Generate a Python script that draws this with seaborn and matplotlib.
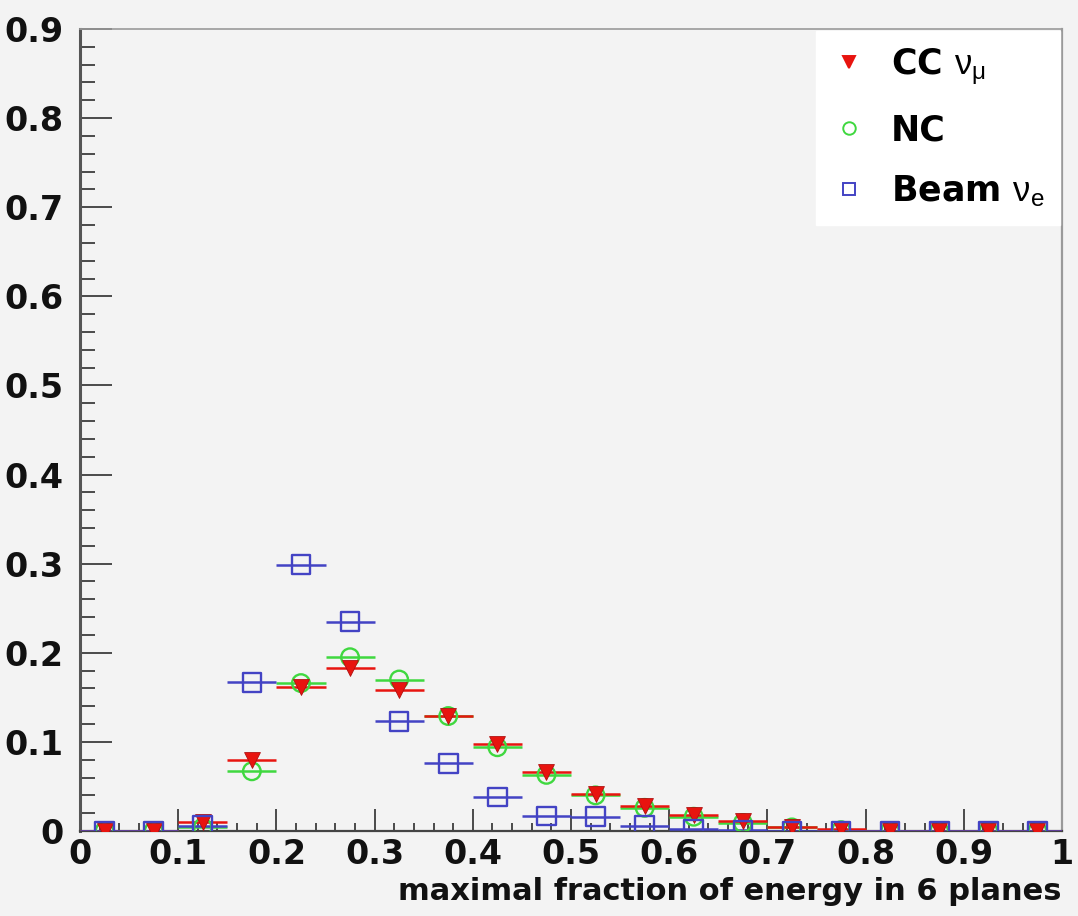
import numpy as np
import pandas as pd
import matplotlib
matplotlib.use("Agg")
import matplotlib.pyplot as plt
from matplotlib.lines import Line2D
from matplotlib.ticker import MultipleLocator, FixedLocator, FixedFormatter
import seaborn as sns

# Bin centres of the 20-bin histogram on [0, 1]
bin_centers = [0.025, 0.075, 0.125, 0.175, 0.225, 0.275, 0.325, 0.375, 0.425, 0.475,
               0.525, 0.575, 0.625, 0.675, 0.725, 0.775, 0.825, 0.875, 0.925, 0.975]
bin_half_width = 0.025

cc_numu = [0.0, 0.0, 0.010, 0.080, 0.162, 0.183, 0.158, 0.129, 0.098, 0.066,
           0.042, 0.028, 0.018, 0.011, 0.005, 0.002, 0.0, 0.0, 0.0, 0.0]
nc = [0.0, 0.0, 0.004, 0.067, 0.166, 0.195, 0.170, 0.129, 0.094, 0.063,
      0.040, 0.026, 0.016, 0.009, 0.004, 0.001, 0.0, 0.0, 0.0, 0.0]
beam_nue = [0.0, 0.0, 0.006, 0.167, 0.299, 0.235, 0.123, 0.076, 0.038, 0.017,
            0.016, 0.006, 0.002, 0.001, 0.0, 0.0, 0.0, 0.0, 0.0, 0.0]

series_names = ["CC", "NC", "Beam"]
legend_labels = [r"CC $\mathrm{ν_{μ}}$", "NC", r"Beam $\mathrm{ν_{e}}$"]
x_tick_labels = ["0", "0.1", "0.2", "0.3", "0.4", "0.5", "0.6", "0.7", "0.8", "0.9", "1"]
y_tick_labels = ["0", "0.1", "0.2", "0.3", "0.4", "0.5", "0.6", "0.7", "0.8", "0.9"]
x_title = "maximal fraction of energy in 6 planes"

sns.set_theme(style="white")
plt.rcParams["font.family"] = ["DejaVu Sans"]
plt.rcParams["mathtext.fontset"] = "custom"
plt.rcParams["mathtext.rm"] = "Liberation Sans"
plt.rcParams["mathtext.it"] = "Liberation Sans:italic"
plt.rcParams["text.color"] = "black"

df = pd.DataFrame({
    "x": bin_centers * 3,
    "y": cc_numu + nc + beam_nue,
    "series": [series_names[0]] * 20 + [series_names[1]] * 20 + [series_names[2]] * 20,
})

bg = "#f3f3f3"
fig = plt.figure(figsize=(10.78, 9.16), dpi=100, facecolor=bg)
ax = fig.add_axes([80 / 1078, (916 - 831) / 916, 982 / 1078, 802 / 916])
ax.set_facecolor(bg)

styles = {
    "NC": dict(color="#3fd83f", marker="o", filled=False, s=160),
    "CC": dict(color="#e8140f", marker="v", filled=True, s=130),
    "Beam": dict(color="#4343c4", marker="s", filled=False, s=180),
}

# Draw order: NC, CC, then beam nu_e on top
for name in ["NC", "CC", "Beam"]:
    st = styles[name]
    sub = df[df["series"] == name]
    ax.errorbar(sub["x"], sub["y"], xerr=bin_half_width, fmt="none",
                ecolor=st["color"], elinewidth=1.8, capsize=0, zorder=3)
    if st["filled"]:
        sns.scatterplot(data=sub, x="x", y="y", ax=ax, marker=st["marker"], s=st["s"],
                        color=st["color"], edgecolor="#b01010", linewidth=0.6,
                        zorder=4, legend=False)
    else:
        sns.scatterplot(data=sub, x="x", y="y", ax=ax, marker=st["marker"], s=st["s"],
                        facecolor="none", edgecolor=st["color"], linewidth=1.7,
                        zorder=4, legend=False)

ax.set_xlim(0, 1)
ax.set_ylim(0, 0.9)

ax.xaxis.set_major_locator(FixedLocator(np.arange(0, 1.01, 0.1)))
ax.xaxis.set_major_formatter(FixedFormatter(x_tick_labels))
ax.xaxis.set_minor_locator(MultipleLocator(0.02))
ax.yaxis.set_major_locator(FixedLocator(np.arange(0, 0.91, 0.1)))
ax.yaxis.set_major_formatter(FixedFormatter(y_tick_labels))
ax.yaxis.set_minor_locator(MultipleLocator(0.02))

tick_color = "#4a4a4a"
ax.tick_params(axis="x", which="major", direction="in", length=16, width=1.4,
               color=tick_color, labelsize=24, pad=5, bottom=True, top=False,
               labelcolor="#111111")
ax.tick_params(axis="x", which="minor", direction="in", length=6, width=1.4,
               color=tick_color, bottom=True, top=False)
ax.tick_params(axis="y", which="major", direction="in", length=23, width=1.4,
               color=tick_color, labelsize=24, pad=12, left=True, right=False,
               labelcolor="#111111")
ax.tick_params(axis="y", which="minor", direction="in", length=11, width=1.4,
               color=tick_color, left=True, right=False)
for lab in ax.get_xticklabels() + ax.get_yticklabels():
    lab.set_fontweight("bold")

ax.spines["left"].set_color("#555555")
ax.spines["left"].set_linewidth(2.2)
ax.spines["bottom"].set_color("#444444")
ax.spines["bottom"].set_linewidth(1.6)
ax.spines["top"].set_color("#9a9a9a")
ax.spines["top"].set_linewidth(1.2)
ax.spines["right"].set_color("#9a9a9a")
ax.spines["right"].set_linewidth(1.6)

ax.set_ylabel("")
ax.set_xlabel(x_title, fontsize=22, fontweight="bold", loc="right", labelpad=4,
              color="#111111")

handles = []
for name in ["CC", "NC", "Beam"]:
    st = styles[name]
    handles.append(Line2D([], [], linestyle="none", marker=st["marker"], markersize=9,
                          markerfacecolor=st["color"] if st["filled"] else "none",
                          markeredgecolor=st["color"], markeredgewidth=1.4))
leg = ax.legend(handles, legend_labels, loc="upper right", bbox_to_anchor=(1.0, 1.0),
                borderaxespad=0.05, frameon=True, fancybox=False, facecolor="white",
                edgecolor="white", framealpha=1.0, fontsize=25, labelspacing=0.75,
                handlelength=1.0, handletextpad=0.7, borderpad=0.45)
for t in leg.get_texts():
    t.set_fontweight("bold")
    t.set_color("black")

fig.savefig("out.png", dpi=100, facecolor=bg)
